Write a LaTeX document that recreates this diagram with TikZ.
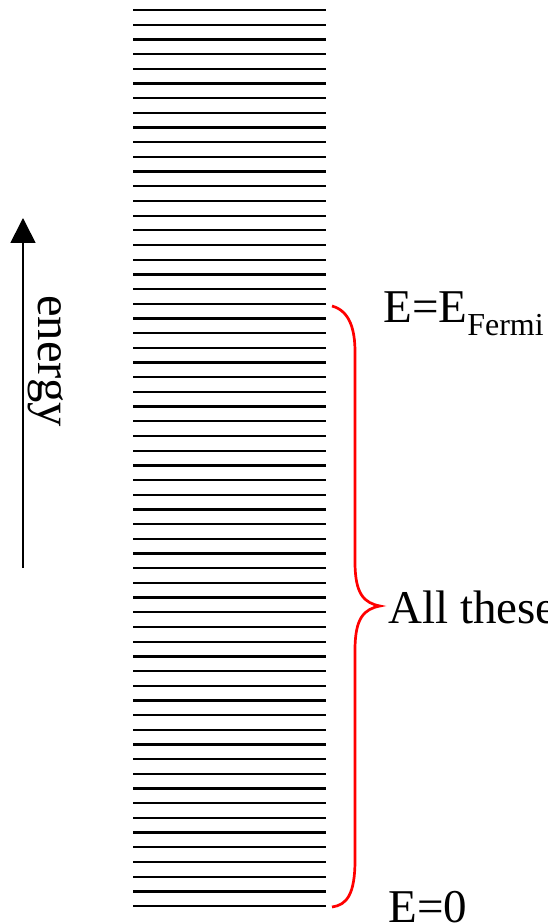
\documentclass[tikz,border=0pt]{standalone}
\usepackage{fontspec}
\setmainfont{Liberation Serif}
\usepackage{tikz}
\usetikzlibrary{arrows.meta,positioning,calc}

\begin{document}
\begin{tikzpicture}[
    x=0.5pt, y=-0.5pt,
    level/.style={line width=1.15pt, draw=black},
    brc/.style={line width=1.35pt, draw=red},
    lbl/.style={anchor=base west, inner sep=0pt, font=\fontsize{23.5}{28}\selectfont},
    arr/.style={-{Triangle[length=12.5pt,width=12.5pt]}, line width=0.85pt}
]
    \useasboundingbox (0,0) rectangle (547,924);
    % energy levels
    \foreach \i in {0,...,61}
        \draw [level] (133,{10+\i*14.69}) -- (326,{10+\i*14.69});

    % energy axis
    \coordinate (ebot) at (23,568);
    \coordinate (etop) at (23,218);
    \draw [arr] (ebot) -- (etop);
    \node [lbl, rotate=-90, font=\fontsize{24.3}{28}\selectfont] (elbl) at (38,295) {energy};

    % brace
    \coordinate (btop) at (332,306);
    \coordinate (btip) at (380,606);
    \coordinate (bbot) at (332,907);
    \draw [brc] (btop) .. controls (350,311) and (355,330) .. (355,352)
        -- (355,562) .. controls (355,594) and (364,603) .. (btip)
        .. controls (364,609) and (355,618) .. (355,650)
        -- (355,860) .. controls (355,894) and (347,905) .. (bbot);

    % labels
    \node [lbl] (fermi) at (383,323) {E=E\raisebox{-6pt}{\fontsize{16}{18}\selectfont Fermi}};
    \node [lbl] (all) at (388,623) {All these};
    \node [lbl] (zero) at (388,922) {E=0};
\end{tikzpicture}
\end{document}
